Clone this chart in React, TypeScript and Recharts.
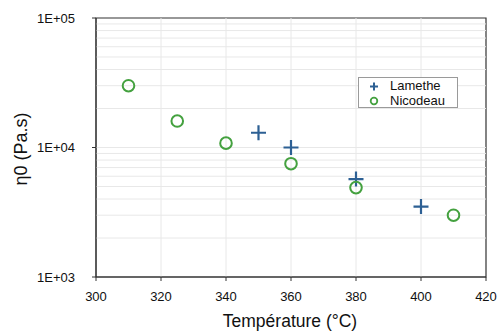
import React from 'react';
import {
  ScatterChart,
  Scatter,
  XAxis,
  YAxis,
  ReferenceLine,
  ReferenceArea,
} from 'recharts';

// Temperature (°C) and zero-shear viscosity (Pa.s)
const lametheTemp = [350, 360, 380, 400];
const lametheEta = [13000, 10000, 5700, 3500];
const nicodeauTemp = [310, 325, 340, 360, 380, 410];
const nicodeauEta = [30000, 16000, 10800, 7500, 4900, 3000];

const xTicks = [300, 320, 340, 360, 380, 400, 420];
const yTicks = [1000, 10000, 100000];
const minorY = [1000, 10000].flatMap(d => [2, 3, 4, 5, 6, 7, 8, 9].map(m => m * d));
const gridX = [320, 340, 360, 380, 400];

const lametheData = lametheTemp.map((t, i) => ({ t, eta: lametheEta[i] }));
const nicodeauData = nicodeauTemp.map((t, i) => ({ t, eta: nicodeauEta[i] }));

const BLUE = '#2d6094';
const GREEN = '#44a13f';
const GRID = '#e8e8e8';
const FONT = 'Liberation Sans, Arial, Helvetica, sans-serif';

const PlusShape = (props: any) => {
  const { cx, cy } = props;
  return (
    <path
      d={`M${cx - 7.5},${cy}H${cx + 7.5}M${cx},${cy - 7.5}V${cy + 7.5}`}
      stroke={BLUE}
      strokeWidth={2.2}
      fill="none"
    />
  );
};

const CircleShape = (props: any) => {
  const { cx, cy } = props;
  return <circle cx={cx} cy={cy} r={5.8} stroke={GREEN} strokeWidth={2} fill="none" />;
};

const LegendBox = () => (
  <div
    style={{
      position: 'absolute',
      left: 358,
      top: 77,
      width: 98,
      height: 29,
      border: '1px solid #9a9a9a',
      background: '#fff',
      fontFamily: FONT,
      fontSize: 13,
      color: '#111',
    }}
  >
    <svg width={20} height={30} style={{ position: 'absolute', left: 8, top: 0 }}>
      <path d="M3,8.5H11M7,4.5V12.5" stroke={BLUE} strokeWidth={2} />
      <circle cx={7} cy={23} r={3.3} stroke={GREEN} strokeWidth={1.8} fill="none" />
    </svg>
    <div style={{ position: 'absolute', left: 31, top: 0, lineHeight: '15px' }}>
      <div>Lamethe</div>
      <div>Nicodeau</div>
    </div>
  </div>
);

export default function App() {
  return (
    <div style={{ position: 'absolute', left: 0, top: 0, width: 497, height: 331, background: '#fff' }}>
      <ScatterChart
        width={497}
        height={331}
        margin={{ top: 18, right: 11, bottom: 0, left: 0 }}
      >
        <XAxis
          type="number"
          dataKey="t"
          domain={[300, 420]}
          ticks={xTicks}
          height={54}
          tickSize={4}
          tickMargin={11}
          stroke="#333"
          tick={{ fill: '#111', fontSize: 13, fontFamily: FONT }}
          label={{
            content: () => (
              <text x={290} y={327} textAnchor="middle" fontSize={17.5} fontFamily={FONT} fill="#111">
                Température (°C)
              </text>
            ),
          }}
        />
        <YAxis
          type="number"
          dataKey="eta"
          scale="log"
          domain={[1000, 100000]}
          allowDataOverflow
          ticks={yTicks}
          width={96}
          tickSize={4}
          tickMargin={17}
          stroke="#333"
          tick={{ fill: '#111', fontSize: 13, fontFamily: FONT }}
          tickFormatter={(v: number) => `1E+0${Math.round(Math.log10(v))}`}
          label={{
            content: () => (
              <text
                x={27}
                y={149}
                textAnchor="middle"
                fontSize={18}
                fontFamily={FONT}
                fill="#111"
                transform="rotate(-90 27 149)"
              >
                η0 (Pa.s)
              </text>
            ),
          }}
        />
        {minorY.concat([10000]).map(v => (
          <ReferenceLine key={`h${v}`} y={v} stroke={GRID} strokeWidth={1} />
        ))}
        {gridX.map(v => (
          <ReferenceLine key={`v${v}`} x={v} stroke={GRID} strokeWidth={1} />
        ))}
        <ReferenceArea
          x1={300}
          x2={420}
          y1={1000}
          y2={100000}
          fill="none"
          fillOpacity={0}
          stroke="#333"
          strokeWidth={1.2}
        />
        <Scatter name="Lamethe" data={lametheData} shape={PlusShape} isAnimationActive={false} />
        <Scatter name="Nicodeau" data={nicodeauData} shape={CircleShape} isAnimationActive={false} />
      </ScatterChart>
      <LegendBox />
    </div>
  );
}
